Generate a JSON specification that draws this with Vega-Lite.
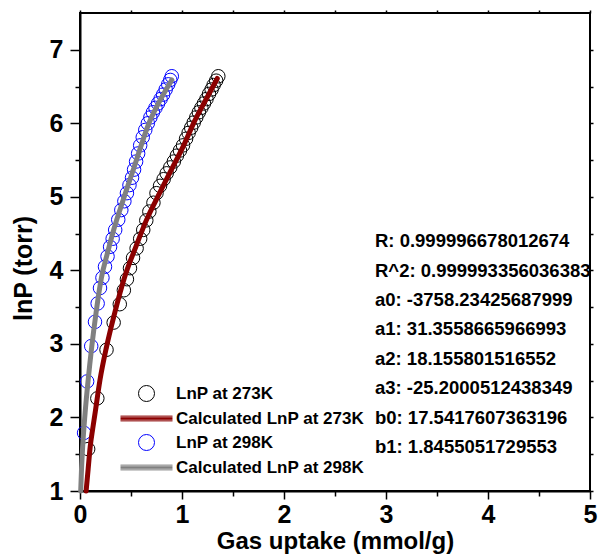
{
  "$schema": "https://vega.github.io/schema/vega-lite/v6.json",
  "width": 510,
  "height": 478,
  "autosize": {"type": "none"},
  "padding": {"left": 80, "top": 13, "right": 13, "bottom": 68},
  "background": "white",
  "config": {
    "font": "Liberation Sans",
    "view": {"stroke": "black", "strokeWidth": 2},
    "axis": {
      "grid": false,
      "domainColor": "black",
      "domainWidth": 2,
      "tickColor": "black",
      "tickWidth": 1.5,
      "labelFont": "Liberation Sans",
      "labelFontSize": 25,
      "labelFontWeight": "bold",
      "labelColor": "black",
      "titleFont": "Liberation Sans",
      "titleFontWeight": "bold",
      "titleColor": "black"
    }
  },
  "resolve": {"axis": {"x": "independent", "y": "independent"}},
  "datasets": {
    "obs": [
      {"series": "LnP at 273K", "uptake": 0.08, "lnp": 1.57},
      {"series": "LnP at 273K", "uptake": 0.17, "lnp": 2.26},
      {"series": "LnP at 273K", "uptake": 0.26, "lnp": 2.92},
      {"series": "LnP at 273K", "uptake": 0.33, "lnp": 3.29},
      {"series": "LnP at 273K", "uptake": 0.39, "lnp": 3.54},
      {"series": "LnP at 273K", "uptake": 0.43, "lnp": 3.73},
      {"series": "LnP at 273K", "uptake": 0.46, "lnp": 3.88},
      {"series": "LnP at 273K", "uptake": 0.49, "lnp": 4.03},
      {"series": "LnP at 273K", "uptake": 0.52, "lnp": 4.17},
      {"series": "LnP at 273K", "uptake": 0.555, "lnp": 4.30},
      {"series": "LnP at 273K", "uptake": 0.59, "lnp": 4.43},
      {"series": "LnP at 273K", "uptake": 0.62, "lnp": 4.55},
      {"series": "LnP at 273K", "uptake": 0.65, "lnp": 4.68},
      {"series": "LnP at 273K", "uptake": 0.68, "lnp": 4.80},
      {"series": "LnP at 273K", "uptake": 0.72, "lnp": 4.92},
      {"series": "LnP at 273K", "uptake": 0.75, "lnp": 5.05},
      {"series": "LnP at 273K", "uptake": 0.785, "lnp": 5.15},
      {"series": "LnP at 273K", "uptake": 0.82, "lnp": 5.24},
      {"series": "LnP at 273K", "uptake": 0.85, "lnp": 5.32},
      {"series": "LnP at 273K", "uptake": 0.885, "lnp": 5.40},
      {"series": "LnP at 273K", "uptake": 0.92, "lnp": 5.48},
      {"series": "LnP at 273K", "uptake": 0.95, "lnp": 5.56},
      {"series": "LnP at 273K", "uptake": 0.98, "lnp": 5.63},
      {"series": "LnP at 273K", "uptake": 1.01, "lnp": 5.70},
      {"series": "LnP at 273K", "uptake": 1.04, "lnp": 5.79},
      {"series": "LnP at 273K", "uptake": 1.065, "lnp": 5.87},
      {"series": "LnP at 273K", "uptake": 1.09, "lnp": 5.94},
      {"series": "LnP at 273K", "uptake": 1.115, "lnp": 6.01},
      {"series": "LnP at 273K", "uptake": 1.14, "lnp": 6.08},
      {"series": "LnP at 273K", "uptake": 1.165, "lnp": 6.15},
      {"series": "LnP at 273K", "uptake": 1.19, "lnp": 6.21},
      {"series": "LnP at 273K", "uptake": 1.215, "lnp": 6.27},
      {"series": "LnP at 273K", "uptake": 1.24, "lnp": 6.33},
      {"series": "LnP at 273K", "uptake": 1.265, "lnp": 6.40},
      {"series": "LnP at 273K", "uptake": 1.29, "lnp": 6.46},
      {"series": "LnP at 273K", "uptake": 1.31, "lnp": 6.52},
      {"series": "LnP at 273K", "uptake": 1.335, "lnp": 6.58},
      {"series": "LnP at 273K", "uptake": 1.356, "lnp": 6.64},
      {"series": "LnP at 298K", "uptake": 0.04, "lnp": 1.79},
      {"series": "LnP at 298K", "uptake": 0.07, "lnp": 2.49},
      {"series": "LnP at 298K", "uptake": 0.11, "lnp": 2.97},
      {"series": "LnP at 298K", "uptake": 0.147, "lnp": 3.30},
      {"series": "LnP at 298K", "uptake": 0.173, "lnp": 3.55},
      {"series": "LnP at 298K", "uptake": 0.196, "lnp": 3.76},
      {"series": "LnP at 298K", "uptake": 0.22, "lnp": 3.90},
      {"series": "LnP at 298K", "uptake": 0.245, "lnp": 4.05},
      {"series": "LnP at 298K", "uptake": 0.27, "lnp": 4.19},
      {"series": "LnP at 298K", "uptake": 0.295, "lnp": 4.32},
      {"series": "LnP at 298K", "uptake": 0.32, "lnp": 4.43},
      {"series": "LnP at 298K", "uptake": 0.345, "lnp": 4.55},
      {"series": "LnP at 298K", "uptake": 0.375, "lnp": 4.69},
      {"series": "LnP at 298K", "uptake": 0.405, "lnp": 4.82},
      {"series": "LnP at 298K", "uptake": 0.435, "lnp": 4.94},
      {"series": "LnP at 298K", "uptake": 0.46, "lnp": 5.05},
      {"series": "LnP at 298K", "uptake": 0.485, "lnp": 5.16},
      {"series": "LnP at 298K", "uptake": 0.51, "lnp": 5.26},
      {"series": "LnP at 298K", "uptake": 0.53, "lnp": 5.37},
      {"series": "LnP at 298K", "uptake": 0.55, "lnp": 5.48},
      {"series": "LnP at 298K", "uptake": 0.57, "lnp": 5.59},
      {"series": "LnP at 298K", "uptake": 0.59, "lnp": 5.70},
      {"series": "LnP at 298K", "uptake": 0.615, "lnp": 5.81},
      {"series": "LnP at 298K", "uptake": 0.64, "lnp": 5.91},
      {"series": "LnP at 298K", "uptake": 0.665, "lnp": 6.00},
      {"series": "LnP at 298K", "uptake": 0.69, "lnp": 6.08},
      {"series": "LnP at 298K", "uptake": 0.715, "lnp": 6.15},
      {"series": "LnP at 298K", "uptake": 0.74, "lnp": 6.21},
      {"series": "LnP at 298K", "uptake": 0.765, "lnp": 6.27},
      {"series": "LnP at 298K", "uptake": 0.79, "lnp": 6.33},
      {"series": "LnP at 298K", "uptake": 0.815, "lnp": 6.39},
      {"series": "LnP at 298K", "uptake": 0.84, "lnp": 6.46},
      {"series": "LnP at 298K", "uptake": 0.865, "lnp": 6.53},
      {"series": "LnP at 298K", "uptake": 0.885, "lnp": 6.59},
      {"series": "LnP at 298K", "uptake": 0.90, "lnp": 6.64}
    ],
    "fit": [
      {"series": "Calculated LnP at 273K", "uptake": 0.06, "lnp": 1.0},
      {"series": "Calculated LnP at 273K", "uptake": 0.08, "lnp": 1.3},
      {"series": "Calculated LnP at 273K", "uptake": 0.10, "lnp": 1.6},
      {"series": "Calculated LnP at 273K", "uptake": 0.125, "lnp": 1.85},
      {"series": "Calculated LnP at 273K", "uptake": 0.15, "lnp": 2.08},
      {"series": "Calculated LnP at 273K", "uptake": 0.196, "lnp": 2.51},
      {"series": "Calculated LnP at 273K", "uptake": 0.26, "lnp": 2.96},
      {"series": "Calculated LnP at 273K", "uptake": 0.34, "lnp": 3.42},
      {"series": "Calculated LnP at 273K", "uptake": 0.44, "lnp": 3.92},
      {"series": "Calculated LnP at 273K", "uptake": 0.55, "lnp": 4.33},
      {"series": "Calculated LnP at 273K", "uptake": 0.65, "lnp": 4.68},
      {"series": "Calculated LnP at 273K", "uptake": 0.78, "lnp": 5.05},
      {"series": "Calculated LnP at 273K", "uptake": 0.90, "lnp": 5.38},
      {"series": "Calculated LnP at 273K", "uptake": 1.02, "lnp": 5.71},
      {"series": "Calculated LnP at 273K", "uptake": 1.12, "lnp": 6.02},
      {"series": "Calculated LnP at 273K", "uptake": 1.23, "lnp": 6.31},
      {"series": "Calculated LnP at 273K", "uptake": 1.346, "lnp": 6.61},
      {"series": "Calculated LnP at 298K", "uptake": 0.007, "lnp": 1.0},
      {"series": "Calculated LnP at 298K", "uptake": 0.015, "lnp": 1.3},
      {"series": "Calculated LnP at 298K", "uptake": 0.026, "lnp": 1.6},
      {"series": "Calculated LnP at 298K", "uptake": 0.05, "lnp": 2.06},
      {"series": "Calculated LnP at 298K", "uptake": 0.08, "lnp": 2.51},
      {"series": "Calculated LnP at 298K", "uptake": 0.115, "lnp": 2.96},
      {"series": "Calculated LnP at 298K", "uptake": 0.157, "lnp": 3.42},
      {"series": "Calculated LnP at 298K", "uptake": 0.21, "lnp": 3.90},
      {"series": "Calculated LnP at 298K", "uptake": 0.27, "lnp": 4.24},
      {"series": "Calculated LnP at 298K", "uptake": 0.33, "lnp": 4.55},
      {"series": "Calculated LnP at 298K", "uptake": 0.40, "lnp": 4.86},
      {"series": "Calculated LnP at 298K", "uptake": 0.457, "lnp": 5.10},
      {"series": "Calculated LnP at 298K", "uptake": 0.53, "lnp": 5.40},
      {"series": "Calculated LnP at 298K", "uptake": 0.60, "lnp": 5.70},
      {"series": "Calculated LnP at 298K", "uptake": 0.67, "lnp": 5.98},
      {"series": "Calculated LnP at 298K", "uptake": 0.75, "lnp": 6.22},
      {"series": "Calculated LnP at 298K", "uptake": 0.82, "lnp": 6.40},
      {"series": "Calculated LnP at 298K", "uptake": 0.90, "lnp": 6.59}
    ],
    "notesFit": [
      {"note": ["R: 0.999996678012674", "R^2: 0.999993356036383"]}
    ],
    "notesParams": [
      {"note": ["a0: -3758.23425687999", "a1: 31.3558665966993", "a2: 18.155801516552", "a3: -25.2000512438349", "b0: 17.5417607363196", "b1: 1.8455051729553"]}
    ]
  },
  "layer": [
    {
      "data": {"name": "obs"},
      "mark": {"type": "point", "filled": false, "size": 182, "strokeWidth": 1, "opacity": 1},
      "encoding": {
        "x": {
          "field": "uptake",
          "type": "quantitative",
          "title": "Gas uptake (mmol/g)",
          "scale": {"domain": [0, 5], "nice": false, "zero": false},
          "axis": {
            "orient": "bottom",
            "values": [0, 0.5, 1, 1.5, 2, 2.5, 3, 3.5, 4, 4.5, 5],
            "labelExpr": "datum.value % 1 == 0 ? format(datum.value, 'd') : ''",
            "tickSize": {"condition": {"test": "datum.value % 1 != 0", "value": 5}, "value": 8},
            "labelPadding": 3,
            "labelFlush": false,
            "labelOverlap": false,
            "titleFontSize": 24,
            "titlePadding": 2
          }
        },
        "y": {
          "field": "lnp",
          "type": "quantitative",
          "title": "lnP (torr)",
          "scale": {"domain": [1, 7.5], "nice": false, "zero": false},
          "axis": {
            "orient": "left",
            "values": [1, 1.5, 2, 2.5, 3, 3.5, 4, 4.5, 5, 5.5, 6, 6.5, 7],
            "labelExpr": "datum.value % 1 == 0 ? format(datum.value, 'd') : ''",
            "tickSize": {"condition": {"test": "datum.value % 1 != 0", "value": 5}, "value": 10},
            "labelPadding": 7,
            "labelFlush": false,
            "labelOverlap": false,
            "titleFontSize": 25,
            "titlePadding": 13,
            "titleY": 255
          }
        },
        "color": {
          "field": "series",
          "type": "nominal",
          "scale": {
            "domain": ["LnP at 273K", "Calculated LnP at 273K", "LnP at 298K", "Calculated LnP at 298K"],
            "range": ["#000000", "#8B0000", "#0000FF", "#808080"]
          },
          "legend": {
            "orient": "none",
            "legendX": 58,
            "legendY": 372,
            "title": null,
            "padding": 0,
            "labelFont": "Liberation Sans",
            "labelFontSize": 17,
            "labelFontWeight": "bold",
            "labelColor": "black",
            "labelLimit": 0,
            "labelOffset": 21,
            "rowPadding": 5,
            "symbolSize": 256,
            "symbolStrokeWidth": 1,
            "symbolFillColor": "transparent"
          }
        },
        "shape": {
          "field": "series",
          "type": "nominal",
          "scale": {
            "domain": ["LnP at 273K", "Calculated LnP at 273K", "LnP at 298K", "Calculated LnP at 298K"],
            "range": ["circle", "M-3.25,-0.3H3.25M-3.25,-0.15H3.25M-3.25,0H3.25M-3.25,0.15H3.25M-3.25,0.3H3.25", "circle", "M-3.25,-0.3H3.25M-3.25,-0.15H3.25M-3.25,0H3.25M-3.25,0.15H3.25M-3.25,0.3H3.25"]
          },
          "legend": {
            "orient": "none",
            "legendX": 58,
            "legendY": 372,
            "title": null,
            "padding": 0,
            "labelFont": "Liberation Sans",
            "labelFontSize": 17,
            "labelFontWeight": "bold",
            "labelColor": "black",
            "labelLimit": 0,
            "labelOffset": 21,
            "rowPadding": 5,
            "symbolSize": 256,
            "symbolStrokeWidth": 1,
            "symbolFillColor": "transparent"
          }
        }
      }
    },
    {
      "data": {"name": "fit"},
      "mark": {"type": "line", "strokeWidth": 5, "strokeCap": "round", "interpolate": "monotone"},
      "encoding": {
        "x": {
          "field": "uptake",
          "type": "quantitative",
          "axis": {
            "orient": "top",
            "title": null,
            "values": [0, 0.5, 1, 1.5, 2, 2.5, 3, 3.5, 4, 4.5, 5],
            "labels": false,
            "domain": false,
            "tickSize": 3
          }
        },
        "y": {
          "field": "lnp",
          "type": "quantitative",
          "axis": {
            "orient": "right",
            "title": null,
            "values": [1, 1.5, 2, 2.5, 3, 3.5, 4, 4.5, 5, 5.5, 6, 6.5, 7],
            "labels": false,
            "domain": false,
            "tickSize": 3
          }
        },
        "color": {"field": "series", "type": "nominal"}
      }
    },
    {
      "data": {"name": "notesFit"},
      "mark": {
        "type": "text",
        "font": "Liberation Sans",
        "fontSize": 18.5,
        "fontWeight": "bold",
        "color": "black",
        "align": "left",
        "baseline": "top",
        "lineHeight": 29.4
      },
      "encoding": {
        "x": {"datum": 2.892, "type": "quantitative", "axis": null},
        "y": {"datum": 4.52, "type": "quantitative", "axis": null},
        "text": {"field": "note", "type": "nominal"}
      }
    },
    {
      "data": {"name": "notesParams"},
      "mark": {
        "type": "text",
        "font": "Liberation Sans",
        "fontSize": 18.5,
        "fontWeight": "bold",
        "color": "black",
        "align": "left",
        "baseline": "top",
        "lineHeight": 29.4
      },
      "encoding": {
        "x": {"datum": 2.892, "type": "quantitative", "axis": null},
        "y": {"datum": 3.72, "type": "quantitative", "axis": null},
        "text": {"field": "note", "type": "nominal"}
      }
    }
  ]
}
